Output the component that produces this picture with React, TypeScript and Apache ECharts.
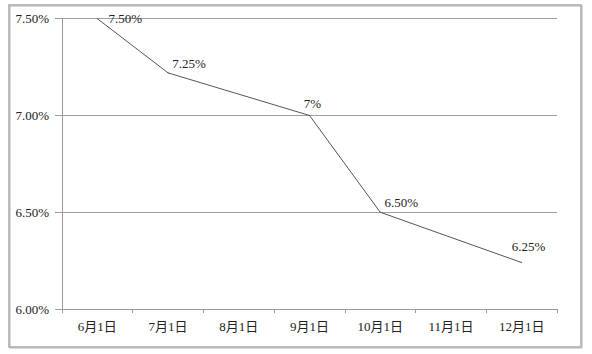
import React, { useEffect, useRef } from "react";
import * as echarts from "echarts";

const categories = ["6月1日", "7月1日", "8月1日", "9月1日", "10月1日", "11月1日", "12月1日"];
const rates: (number | null)[] = [7.5, 7.22, null, 7.0, 6.5, null, 6.24];
const pointLabels = ["7.50%", "7.25%", "", "7%", "6.50%", "", "6.25%"];
const yTicks = [6.0, 6.5, 7.0, 7.5];
const labelOffsets: [number, number][] = [[28, 0], [21, -9], [0, 0], [3, -12], [21, -10], [0, 0], [7, -16]];

const FONT = "Liberation Serif, Noto Sans CJK SC, serif";

export default function App() {
  const ref = useRef<HTMLDivElement>(null);
  useEffect(() => {
    if (!ref.current) return;
    const chart = echarts.init(ref.current, undefined, { renderer: "svg" });
    const seriesData = rates.map((v, i) => ({
      value: v,
      label: {
        show: pointLabels[i] !== "",
        formatter: pointLabels[i],
        position: "inside",
        offset: labelOffsets[i],
      },
    }));
    chart.setOption({
      animation: false,
      backgroundColor: "#ffffff",
      textStyle: { fontFamily: FONT },
      graphic: [
        {
          type: "rect",
          shape: { x: 9, y: 5, width: 572, height: 342 },
          style: {
            fill: "none",
            stroke: "#a8a8a8",
            lineWidth: 1.5,
            shadowColor: "rgba(0,0,0,0.2)",
            shadowOffsetX: 1,
            shadowOffsetY: 1,
            shadowBlur: 1,
          },
          silent: true,
        },
      ],
      grid: {
        left: 62,
        right: 35,
        top: 18.7,
        bottom: 45,
        outerBoundsMode: "none",
        containLabel: false,
      },
      xAxis: {
        type: "category",
        data: categories,
        boundaryGap: true,
        axisLine: { show: true, lineStyle: { color: "#999", width: 1 } },
        axisTick: { show: true, length: 4, interval: 0, alignWithLabel: false, lineStyle: { color: "#999" } },
        axisLabel: { interval: 0, margin: 11, fontSize: 13, color: "#222", fontFamily: FONT },
        splitLine: { show: false },
      },
      yAxis: {
        type: "value",
        min: yTicks[0],
        max: yTicks[yTicks.length - 1],
        interval: 0.5,
        axisLine: { show: true, lineStyle: { color: "#999", width: 1 } },
        axisTick: { show: true, length: 7, lineStyle: { color: "#999" } },
        axisLabel: {
          margin: 13,
          fontSize: 13,
          color: "#222",
          fontFamily: FONT,
          formatter: (v: number) => v.toFixed(2) + "%",
        },
        splitLine: { show: true, lineStyle: { color: "#a0a0a0", width: 1 } },
      },
      series: [
        {
          type: "line",
          data: seriesData,
          connectNulls: true,
          symbol: "circle",
          symbolSize: 1,
          showSymbol: true,
          itemStyle: { color: "#555" },
          lineStyle: { color: "#555", width: 1 },
          label: { fontSize: 13, color: "#222", fontFamily: FONT },
          emphasis: { disabled: true },
        },
      ],
    });
    return () => chart.dispose();
  }, []);
  return (
    <div
      ref={ref}
      style={{ position: "fixed", left: 0, top: 0, width: 592, height: 354, background: "#fff" }}
    />
  );
}
